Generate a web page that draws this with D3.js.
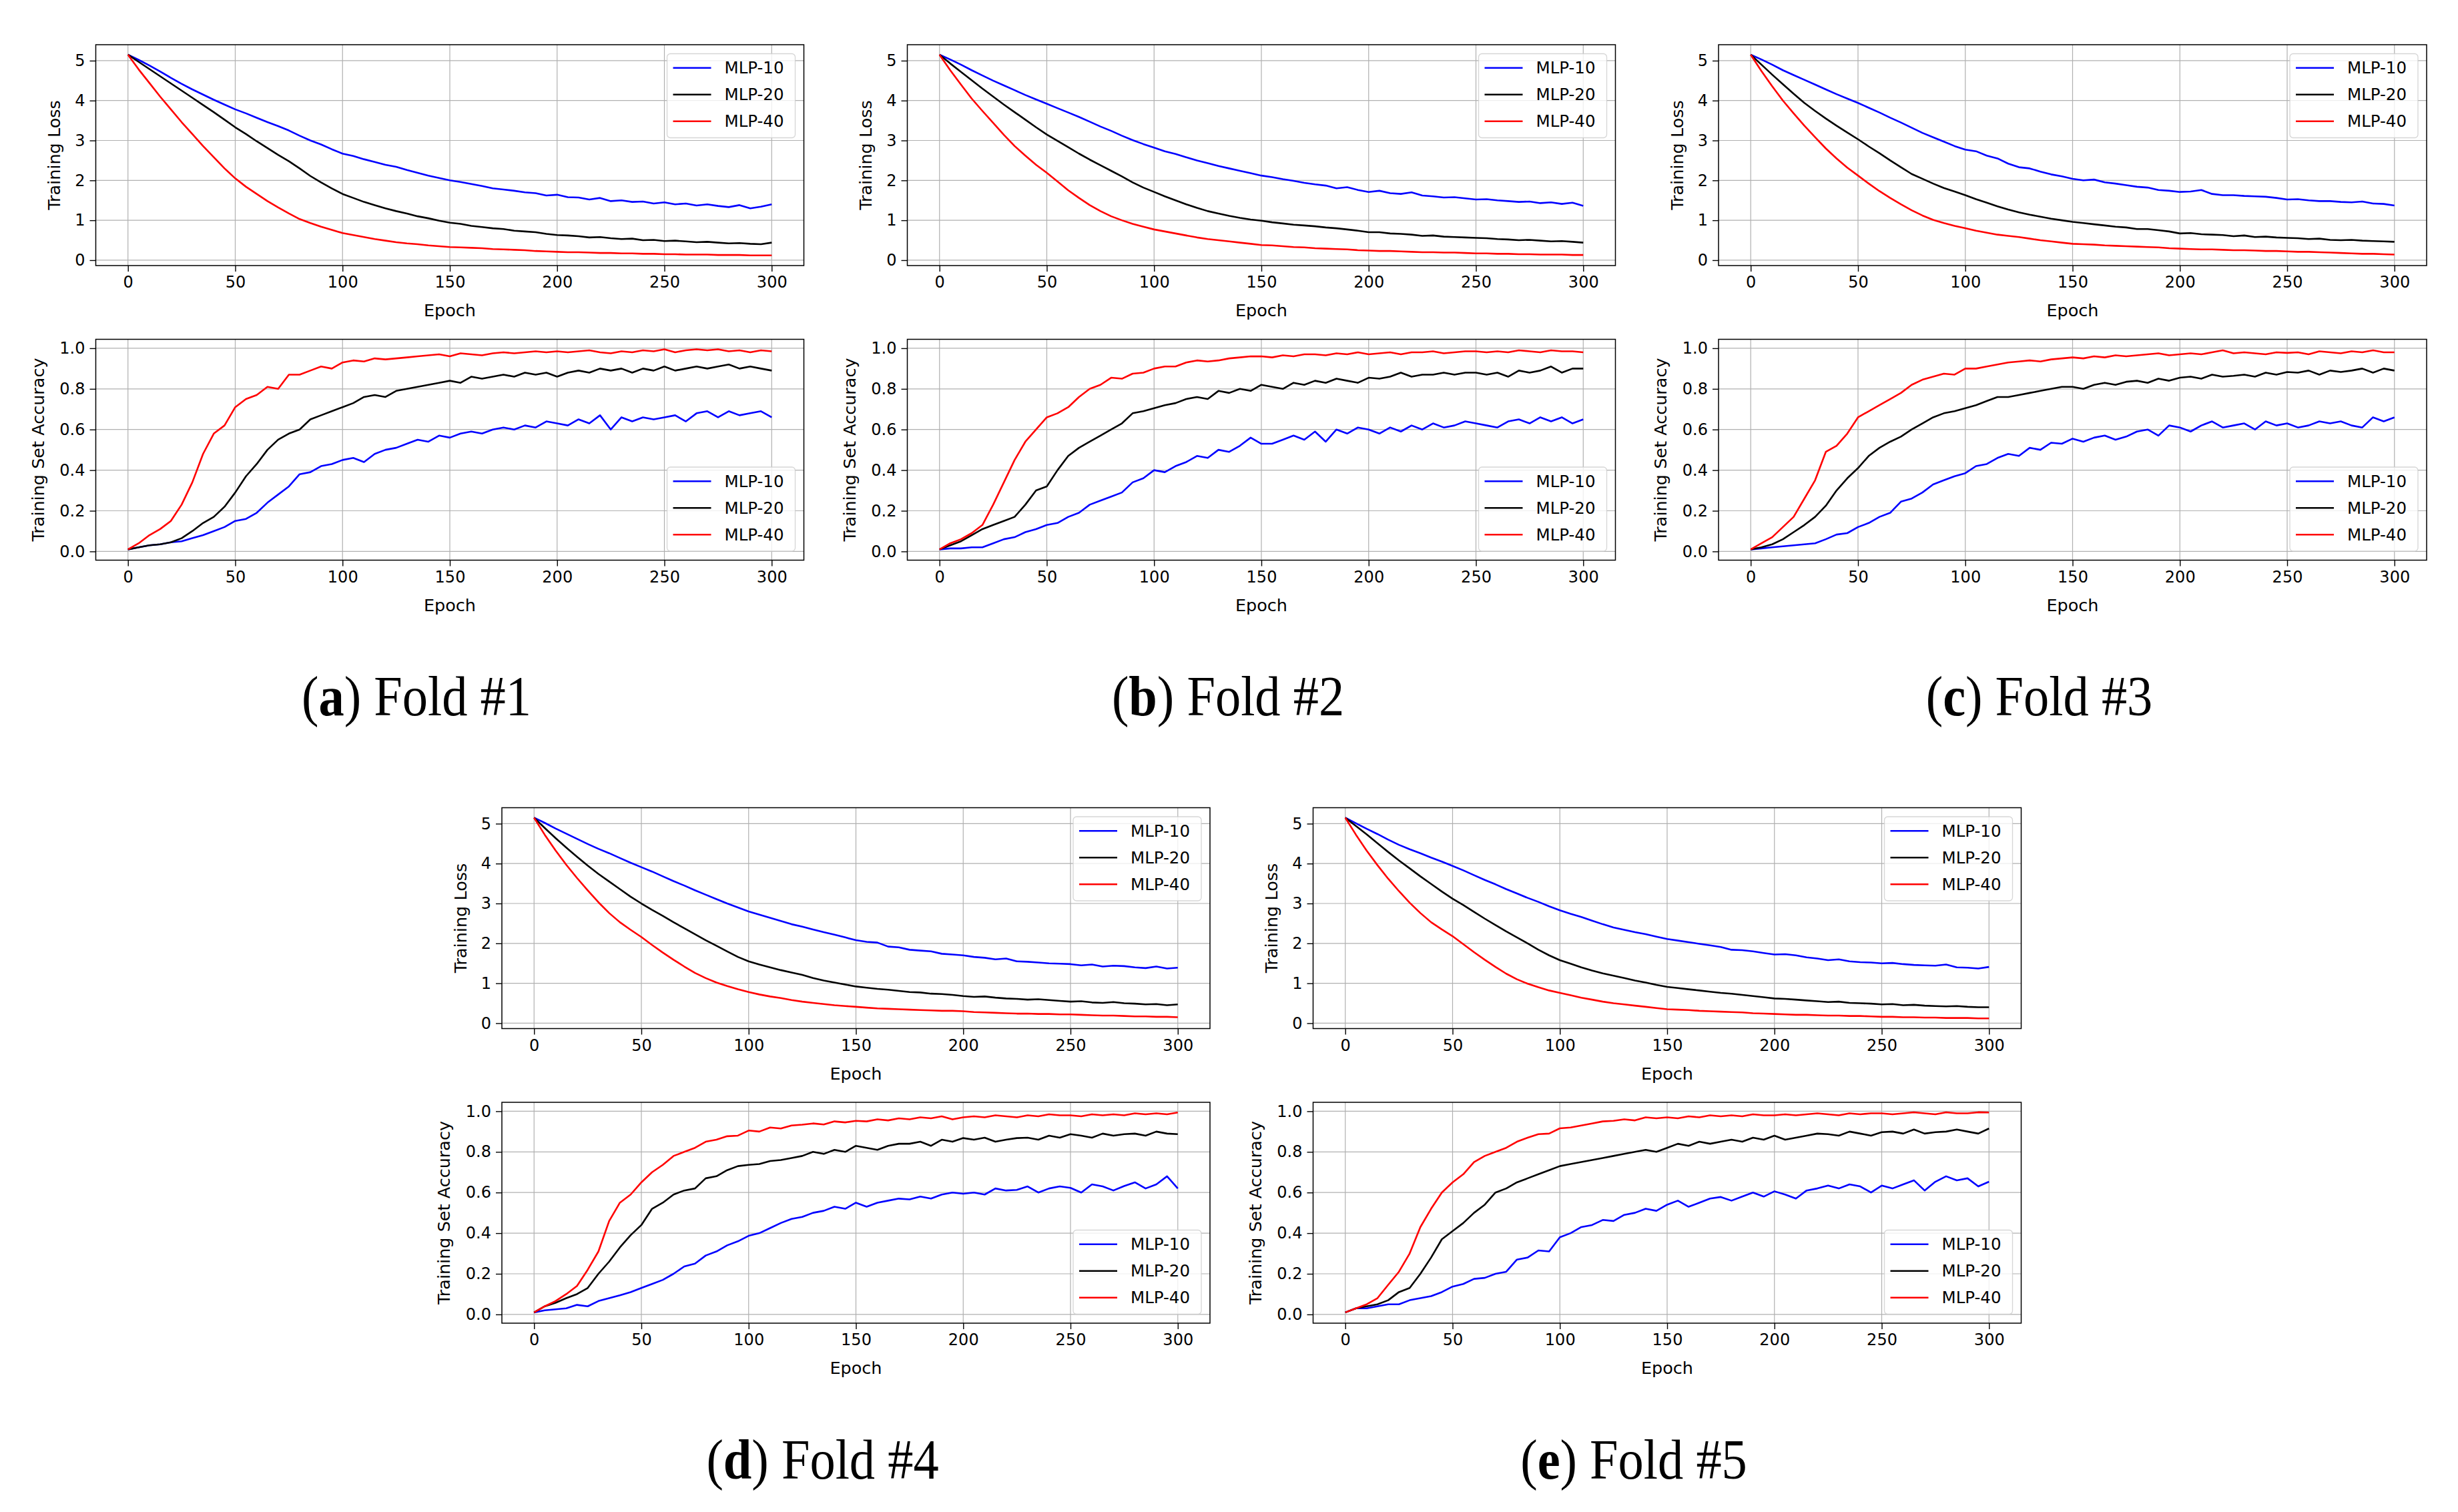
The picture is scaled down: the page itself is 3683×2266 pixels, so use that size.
<!DOCTYPE html>
<html><head><meta charset="utf-8">
<script src="https://cdn.jsdelivr.net/npm/d3@7"></script>
<style>html,body{margin:0;padding:0;background:#fff;}svg{display:block;}</style>
</head><body>
<svg id="chart" width="3683" height="2266"></svg>
<script>
// ---------- data (values every 5 epochs) ----------
const epochs = d3.range(0, 301, 5);
const seriesNames = ["MLP-10", "MLP-20", "MLP-40"];
const xTicks = [0, 50, 100, 150, 200, 250, 300];
const lossTicks = [0, 1, 2, 3, 4, 5];
const accTicks = [0.0, 0.2, 0.4, 0.6, 0.8, 1.0];
const captionLetters = ["a", "b", "c", "d", "e"];
const captionTexts = ["Fold #1", "Fold #2", "Fold #3", "Fold #4", "Fold #5"];

// Fold 1
const lossA10 = [5.15,5.02,4.88,4.73,4.57,4.42,4.28,4.15,4.02,3.90,3.78,3.68,3.57,3.46,3.36,3.25,3.12,3.00,2.90,2.78,2.67,2.61,2.53,2.46,2.39,2.34,2.26,2.19,2.12,2.06,2.00,1.96,1.91,1.86,1.80,1.77,1.74,1.70,1.68,1.62,1.64,1.58,1.57,1.52,1.56,1.48,1.50,1.46,1.47,1.42,1.45,1.40,1.42,1.37,1.40,1.36,1.33,1.38,1.30,1.34,1.40];
const lossA20 = [5.15,4.97,4.79,4.61,4.43,4.25,4.07,3.89,3.71,3.52,3.33,3.16,2.98,2.81,2.64,2.48,2.30,2.11,1.95,1.80,1.66,1.56,1.46,1.38,1.30,1.23,1.17,1.10,1.05,0.99,0.94,0.91,0.86,0.83,0.80,0.78,0.74,0.72,0.70,0.66,0.63,0.62,0.60,0.57,0.58,0.55,0.53,0.54,0.50,0.51,0.48,0.49,0.47,0.45,0.46,0.44,0.42,0.43,0.41,0.40,0.44];
const lossA40 = [5.15,4.78,4.44,4.10,3.78,3.46,3.16,2.86,2.58,2.30,2.05,1.84,1.66,1.48,1.32,1.17,1.03,0.93,0.84,0.76,0.68,0.63,0.58,0.53,0.49,0.45,0.42,0.40,0.37,0.35,0.33,0.32,0.31,0.30,0.28,0.27,0.26,0.25,0.23,0.22,0.21,0.20,0.20,0.19,0.18,0.18,0.17,0.17,0.16,0.16,0.15,0.15,0.14,0.14,0.14,0.13,0.13,0.13,0.12,0.12,0.12];
const accA10 = [0.01,0.02,0.03,0.035,0.045,0.05,0.065,0.08,0.10,0.12,0.15,0.16,0.19,0.24,0.28,0.32,0.38,0.39,0.42,0.43,0.45,0.46,0.44,0.48,0.50,0.51,0.53,0.55,0.54,0.57,0.56,0.58,0.59,0.58,0.60,0.61,0.60,0.62,0.61,0.64,0.63,0.62,0.65,0.63,0.67,0.60,0.66,0.64,0.66,0.65,0.66,0.67,0.64,0.68,0.69,0.66,0.69,0.67,0.68,0.69,0.66];
const accA20 = [0.01,0.02,0.03,0.035,0.045,0.065,0.10,0.14,0.17,0.22,0.29,0.37,0.43,0.50,0.55,0.58,0.60,0.65,0.67,0.69,0.71,0.73,0.76,0.77,0.76,0.79,0.80,0.81,0.82,0.83,0.84,0.83,0.86,0.85,0.86,0.87,0.86,0.88,0.87,0.88,0.86,0.88,0.89,0.88,0.90,0.89,0.90,0.88,0.90,0.89,0.91,0.89,0.90,0.91,0.90,0.91,0.92,0.90,0.91,0.90,0.89];
const accA40 = [0.01,0.04,0.08,0.11,0.15,0.23,0.34,0.48,0.58,0.62,0.71,0.75,0.77,0.81,0.80,0.87,0.87,0.89,0.91,0.90,0.93,0.94,0.935,0.95,0.945,0.95,0.955,0.96,0.965,0.97,0.96,0.975,0.97,0.965,0.975,0.98,0.975,0.98,0.985,0.98,0.985,0.98,0.985,0.99,0.98,0.975,0.985,0.98,0.99,0.985,0.995,0.98,0.99,0.995,0.99,0.995,0.985,0.99,0.98,0.99,0.985];

// Fold 2
const lossB10 = [5.15,5.03,4.90,4.76,4.63,4.50,4.38,4.26,4.14,4.03,3.92,3.81,3.70,3.59,3.47,3.35,3.24,3.12,3.01,2.91,2.82,2.73,2.66,2.58,2.50,2.43,2.36,2.30,2.24,2.18,2.12,2.08,2.03,1.99,1.94,1.90,1.87,1.80,1.83,1.76,1.71,1.74,1.68,1.66,1.70,1.62,1.60,1.57,1.58,1.55,1.52,1.53,1.50,1.48,1.46,1.47,1.43,1.45,1.41,1.44,1.36];
const lossB20 = [5.15,4.93,4.72,4.51,4.30,4.10,3.90,3.71,3.52,3.33,3.15,2.99,2.83,2.67,2.52,2.38,2.24,2.10,1.95,1.82,1.71,1.60,1.50,1.40,1.31,1.23,1.17,1.11,1.06,1.02,0.99,0.95,0.92,0.89,0.87,0.85,0.82,0.80,0.77,0.74,0.70,0.70,0.67,0.66,0.64,0.61,0.62,0.59,0.58,0.57,0.56,0.55,0.53,0.52,0.50,0.51,0.49,0.47,0.48,0.46,0.44];
const lossB40 = [5.15,4.76,4.40,4.05,3.74,3.44,3.14,2.86,2.62,2.39,2.19,1.97,1.75,1.56,1.38,1.23,1.10,1.00,0.91,0.84,0.77,0.72,0.67,0.62,0.57,0.53,0.50,0.47,0.44,0.41,0.38,0.37,0.35,0.33,0.32,0.30,0.29,0.28,0.27,0.25,0.24,0.23,0.23,0.22,0.21,0.20,0.20,0.19,0.19,0.18,0.17,0.17,0.16,0.16,0.15,0.15,0.14,0.14,0.14,0.13,0.13];
const accB10 = [0.01,0.015,0.015,0.02,0.02,0.04,0.06,0.07,0.095,0.11,0.13,0.14,0.17,0.19,0.23,0.25,0.27,0.29,0.34,0.36,0.40,0.39,0.42,0.44,0.47,0.46,0.50,0.49,0.52,0.56,0.53,0.53,0.55,0.57,0.55,0.59,0.54,0.60,0.58,0.61,0.60,0.58,0.61,0.59,0.62,0.60,0.63,0.61,0.62,0.64,0.63,0.62,0.61,0.64,0.65,0.63,0.66,0.64,0.66,0.63,0.65];
const accB20 = [0.01,0.03,0.05,0.08,0.11,0.13,0.15,0.17,0.23,0.30,0.32,0.40,0.47,0.51,0.54,0.57,0.60,0.63,0.68,0.69,0.705,0.72,0.73,0.75,0.76,0.75,0.79,0.78,0.80,0.79,0.82,0.81,0.80,0.83,0.82,0.84,0.83,0.85,0.84,0.83,0.855,0.85,0.86,0.88,0.86,0.87,0.87,0.88,0.87,0.88,0.88,0.87,0.88,0.86,0.89,0.88,0.89,0.91,0.88,0.90,0.90];
const accB40 = [0.01,0.04,0.06,0.09,0.13,0.23,0.34,0.45,0.54,0.60,0.66,0.68,0.71,0.76,0.80,0.82,0.855,0.85,0.875,0.88,0.90,0.91,0.91,0.93,0.94,0.935,0.94,0.95,0.955,0.96,0.96,0.955,0.965,0.96,0.97,0.97,0.965,0.975,0.97,0.98,0.97,0.975,0.98,0.97,0.98,0.98,0.985,0.975,0.98,0.985,0.985,0.98,0.985,0.98,0.99,0.985,0.98,0.99,0.985,0.985,0.98];

// Fold 3
const lossC10 = [5.15,5.03,4.90,4.76,4.64,4.52,4.40,4.28,4.16,4.05,3.94,3.82,3.70,3.57,3.45,3.32,3.19,3.08,2.97,2.86,2.77,2.73,2.62,2.55,2.42,2.33,2.30,2.22,2.15,2.10,2.04,2.00,2.02,1.95,1.92,1.88,1.84,1.82,1.76,1.74,1.71,1.72,1.76,1.66,1.63,1.63,1.61,1.60,1.59,1.56,1.52,1.53,1.50,1.48,1.48,1.46,1.45,1.47,1.42,1.41,1.37];
const lossC20 = [5.15,4.90,4.65,4.41,4.17,3.94,3.74,3.55,3.37,3.20,3.03,2.85,2.68,2.50,2.33,2.16,2.04,1.92,1.81,1.72,1.63,1.53,1.44,1.35,1.27,1.20,1.14,1.09,1.04,1.00,0.96,0.93,0.90,0.87,0.84,0.82,0.78,0.78,0.75,0.72,0.67,0.68,0.65,0.64,0.63,0.60,0.62,0.58,0.59,0.57,0.56,0.55,0.53,0.54,0.51,0.50,0.51,0.49,0.48,0.47,0.46];
const lossC40 = [5.15,4.74,4.36,4.00,3.68,3.37,3.08,2.80,2.55,2.32,2.12,1.92,1.73,1.56,1.40,1.25,1.12,1.01,0.93,0.86,0.80,0.74,0.69,0.64,0.61,0.58,0.54,0.50,0.47,0.44,0.41,0.40,0.39,0.37,0.36,0.35,0.34,0.33,0.32,0.30,0.29,0.28,0.27,0.27,0.26,0.25,0.25,0.24,0.23,0.23,0.22,0.21,0.21,0.20,0.19,0.18,0.17,0.16,0.16,0.15,0.14];
const accC10 = [0.01,0.015,0.02,0.025,0.03,0.035,0.04,0.06,0.083,0.09,0.12,0.14,0.17,0.19,0.245,0.26,0.29,0.33,0.35,0.37,0.385,0.42,0.43,0.46,0.48,0.47,0.51,0.50,0.535,0.53,0.555,0.54,0.56,0.57,0.55,0.565,0.59,0.60,0.57,0.62,0.61,0.59,0.62,0.64,0.61,0.62,0.63,0.60,0.64,0.62,0.63,0.61,0.62,0.64,0.63,0.64,0.62,0.61,0.66,0.64,0.66];
const accC20 = [0.01,0.02,0.035,0.06,0.095,0.13,0.17,0.225,0.30,0.36,0.41,0.47,0.51,0.54,0.565,0.60,0.63,0.66,0.68,0.69,0.705,0.72,0.74,0.76,0.76,0.77,0.78,0.79,0.80,0.81,0.81,0.80,0.82,0.83,0.82,0.835,0.84,0.83,0.85,0.84,0.855,0.86,0.85,0.87,0.86,0.864,0.87,0.86,0.88,0.87,0.883,0.88,0.89,0.87,0.89,0.883,0.89,0.90,0.88,0.90,0.89];
const accC40 = [0.01,0.04,0.07,0.12,0.17,0.26,0.35,0.49,0.52,0.58,0.66,0.69,0.72,0.75,0.78,0.82,0.845,0.86,0.875,0.87,0.90,0.90,0.91,0.92,0.93,0.935,0.94,0.935,0.945,0.95,0.955,0.95,0.96,0.955,0.965,0.96,0.965,0.97,0.975,0.965,0.97,0.975,0.97,0.98,0.99,0.975,0.98,0.975,0.97,0.98,0.977,0.98,0.97,0.985,0.98,0.975,0.985,0.98,0.99,0.98,0.98];

// Fold 4
const lossD10 = [5.15,5.02,4.88,4.75,4.62,4.49,4.37,4.26,4.14,4.02,3.91,3.80,3.68,3.56,3.45,3.33,3.22,3.11,3.00,2.90,2.80,2.72,2.64,2.56,2.48,2.42,2.35,2.28,2.22,2.15,2.08,2.04,2.02,1.92,1.90,1.84,1.82,1.80,1.74,1.72,1.70,1.66,1.64,1.60,1.62,1.55,1.54,1.52,1.50,1.49,1.48,1.45,1.47,1.42,1.44,1.43,1.40,1.38,1.42,1.37,1.39];
const lossD20 = [5.15,4.89,4.64,4.40,4.17,3.95,3.74,3.55,3.36,3.17,3.00,2.84,2.69,2.53,2.38,2.23,2.08,1.94,1.80,1.66,1.55,1.47,1.40,1.33,1.27,1.21,1.13,1.07,1.02,0.97,0.92,0.89,0.86,0.84,0.81,0.78,0.77,0.74,0.73,0.71,0.68,0.66,0.67,0.64,0.62,0.61,0.59,0.60,0.58,0.56,0.54,0.55,0.52,0.51,0.53,0.50,0.49,0.47,0.48,0.45,0.47];
const lossD40 = [5.15,4.72,4.33,3.97,3.64,3.33,3.03,2.76,2.53,2.34,2.16,1.96,1.77,1.59,1.42,1.26,1.13,1.02,0.93,0.85,0.78,0.72,0.67,0.63,0.58,0.54,0.51,0.48,0.45,0.43,0.41,0.39,0.37,0.36,0.35,0.34,0.33,0.32,0.31,0.31,0.30,0.28,0.27,0.26,0.25,0.24,0.24,0.23,0.23,0.22,0.22,0.21,0.20,0.19,0.19,0.18,0.17,0.17,0.16,0.16,0.15];
const accD10 = [0.01,0.02,0.025,0.03,0.047,0.04,0.066,0.08,0.094,0.11,0.13,0.15,0.17,0.20,0.236,0.25,0.29,0.31,0.34,0.36,0.387,0.40,0.425,0.45,0.47,0.48,0.50,0.51,0.53,0.52,0.55,0.53,0.55,0.56,0.57,0.566,0.58,0.57,0.59,0.60,0.594,0.60,0.59,0.62,0.61,0.613,0.63,0.60,0.62,0.63,0.623,0.60,0.64,0.63,0.61,0.632,0.65,0.62,0.64,0.68,0.62];
const accD20 = [0.01,0.04,0.057,0.08,0.10,0.13,0.20,0.26,0.33,0.39,0.44,0.52,0.55,0.59,0.61,0.62,0.67,0.68,0.71,0.73,0.736,0.74,0.755,0.76,0.77,0.78,0.80,0.79,0.81,0.80,0.83,0.82,0.81,0.83,0.84,0.84,0.85,0.83,0.86,0.85,0.868,0.86,0.87,0.85,0.86,0.868,0.87,0.86,0.88,0.87,0.887,0.88,0.87,0.89,0.88,0.887,0.89,0.88,0.90,0.89,0.887];
const accD40 = [0.01,0.04,0.066,0.10,0.14,0.22,0.31,0.46,0.55,0.59,0.65,0.70,0.736,0.78,0.80,0.82,0.85,0.86,0.877,0.88,0.905,0.90,0.92,0.915,0.93,0.934,0.94,0.935,0.95,0.945,0.953,0.95,0.96,0.955,0.965,0.96,0.97,0.965,0.975,0.96,0.97,0.975,0.97,0.98,0.975,0.97,0.98,0.975,0.985,0.98,0.98,0.975,0.985,0.98,0.985,0.98,0.99,0.985,0.99,0.985,0.994];

// Fold 5
const lossE10 = [5.15,5.01,4.87,4.74,4.60,4.47,4.36,4.26,4.15,4.05,3.94,3.83,3.71,3.59,3.48,3.36,3.25,3.14,3.04,2.93,2.83,2.74,2.66,2.57,2.48,2.40,2.34,2.28,2.23,2.17,2.11,2.07,2.03,1.99,1.95,1.91,1.84,1.83,1.80,1.76,1.72,1.73,1.70,1.65,1.62,1.58,1.60,1.55,1.53,1.52,1.50,1.51,1.48,1.46,1.45,1.44,1.47,1.40,1.39,1.37,1.41];
const lossE20 = [5.15,4.94,4.73,4.51,4.29,4.08,3.88,3.68,3.49,3.30,3.12,2.96,2.79,2.62,2.46,2.30,2.15,2.00,1.84,1.70,1.58,1.49,1.40,1.32,1.25,1.19,1.13,1.07,1.02,0.96,0.91,0.88,0.85,0.82,0.79,0.76,0.74,0.71,0.68,0.65,0.62,0.61,0.59,0.57,0.55,0.53,0.54,0.51,0.50,0.49,0.47,0.48,0.45,0.46,0.44,0.43,0.42,0.43,0.41,0.40,0.40];
const lossE40 = [5.15,4.72,4.32,3.96,3.62,3.31,3.02,2.76,2.53,2.35,2.18,1.98,1.78,1.59,1.41,1.24,1.10,0.99,0.90,0.82,0.76,0.70,0.64,0.59,0.54,0.50,0.47,0.44,0.41,0.38,0.35,0.34,0.33,0.31,0.30,0.29,0.28,0.27,0.25,0.24,0.23,0.22,0.21,0.21,0.20,0.19,0.19,0.18,0.18,0.17,0.16,0.16,0.15,0.15,0.14,0.14,0.13,0.13,0.13,0.12,0.12];
const accE10 = [0.01,0.03,0.03,0.04,0.05,0.05,0.07,0.08,0.09,0.11,0.137,0.15,0.175,0.18,0.20,0.21,0.27,0.28,0.315,0.31,0.38,0.40,0.43,0.44,0.465,0.46,0.49,0.50,0.52,0.51,0.54,0.56,0.53,0.55,0.57,0.578,0.56,0.58,0.60,0.58,0.606,0.59,0.57,0.61,0.62,0.634,0.62,0.64,0.63,0.60,0.634,0.62,0.64,0.66,0.61,0.653,0.68,0.66,0.67,0.63,0.653];
const accE20 = [0.01,0.03,0.04,0.05,0.07,0.11,0.13,0.20,0.28,0.37,0.41,0.45,0.50,0.54,0.60,0.62,0.65,0.67,0.69,0.71,0.73,0.74,0.75,0.76,0.77,0.78,0.79,0.80,0.81,0.80,0.82,0.84,0.83,0.85,0.84,0.85,0.86,0.85,0.87,0.86,0.88,0.86,0.87,0.88,0.89,0.887,0.88,0.90,0.89,0.88,0.897,0.90,0.89,0.91,0.89,0.897,0.90,0.91,0.90,0.89,0.915];
const accE40 = [0.01,0.03,0.05,0.08,0.146,0.21,0.30,0.43,0.52,0.60,0.65,0.69,0.75,0.78,0.80,0.82,0.85,0.87,0.887,0.89,0.916,0.92,0.93,0.94,0.95,0.953,0.96,0.955,0.97,0.965,0.97,0.965,0.975,0.97,0.98,0.975,0.98,0.975,0.985,0.98,0.98,0.985,0.98,0.985,0.99,0.985,0.98,0.99,0.985,0.99,0.99,0.985,0.99,0.995,0.99,0.985,0.995,0.99,0.99,0.995,0.994];

const foldLoss = [[lossA10,lossA20,lossA40],[lossB10,lossB20,lossB40],[lossC10,lossC20,lossC40],[lossD10,lossD20,lossD40],[lossE10,lossE20,lossE40]];
const foldAcc  = [[accA10,accA20,accA40],[accB10,accB20,accB40],[accC10,accC20,accC40],[accD10,accD20,accD40],[accE10,accE20,accE40]];

// ---------- layout / style ----------
const colors = ["#0000ff", "#000000", "#ff0000"];
const FONT = "'DejaVu Sans', Verdana, sans-serif";
const axW = 1061, axH = 331;
const panelPos = [
  {x: 143.5, y: 67}, {x: 1359.5, y: 67}, {x: 2575, y: 67},
  {x: 752, y: 1210.5}, {x: 1967.5, y: 1210.5}
];
const accOffset = 441.5;     // accuracy axes top relative to loss axes top
const captionOffset = 1005;  // caption baseline relative to loss axes top

const svg = d3.select("#chart");
svg.append("rect").attr("width", 3683).attr("height", 2266).attr("fill", "#fff");

function drawAxes(g, series, yDomain, yTicks, yFmt, yLabel, yLabelOff, legendPos, idx) {
  const x = d3.scaleLinear().domain([-15, 315]).range([0, axW]);
  const y = d3.scaleLinear().domain(yDomain).range([axH, 0]);

  // grid
  const grid = g.append("g").attr("stroke", "#b0b0b0").attr("stroke-width", 1.2);
  xTicks.forEach(t => grid.append("line").attr("x1", x(t)).attr("x2", x(t)).attr("y1", 0).attr("y2", axH));
  yTicks.forEach(t => grid.append("line").attr("x1", 0).attr("x2", axW).attr("y1", y(t)).attr("y2", y(t)));

  // lines
  const clipId = "clip" + idx;
  g.append("clipPath").attr("id", clipId).append("rect").attr("width", axW).attr("height", axH);
  const line = d3.line().x((d, i) => x(epochs[i])).y(d => y(d));
  const lg = g.append("g").attr("clip-path", `url(#${clipId})`);
  series.forEach((s, k) => {
    lg.append("path").datum(s).attr("d", line).attr("fill", "none")
      .attr("stroke", colors[k]).attr("stroke-width", 2.6).attr("stroke-linejoin", "round");
  });

  // axes via d3 axis generators
  const xAxis = d3.axisBottom(x).tickValues(xTicks).tickSize(9).tickPadding(7).tickFormat(d3.format("d"));
  const yAxis = d3.axisLeft(y).tickValues(yTicks).tickSize(9).tickPadding(7).tickFormat(yFmt);
  const gx = g.append("g").attr("transform", `translate(0,${axH})`).call(xAxis);
  const gy = g.append("g").call(yAxis);
  [gx, gy].forEach(a => {
    a.select(".domain").remove();
    a.selectAll(".tick line").attr("stroke", "#000").attr("stroke-width", 1.4);
    a.selectAll(".tick text").attr("font-family", FONT).attr("font-size", 24).attr("fill", "#000");
  });
  gx.selectAll(".tick text").attr("dy", "0.71em");
  // frame
  g.append("rect").attr("width", axW).attr("height", axH).attr("fill", "none")
    .attr("stroke", "#000").attr("stroke-width", 1.5);

  // axis labels
  g.append("text").attr("x", axW / 2).attr("y", axH + 67).attr("text-anchor", "middle")
    .attr("dominant-baseline", "central").attr("font-family", FONT).attr("font-size", 25.5).text("Epoch");
  g.append("text").attr("transform", `translate(${yLabelOff},${axH / 2}) rotate(-90)`)
    .attr("text-anchor", "middle").attr("dominant-baseline", "central")
    .attr("font-family", FONT).attr("font-size", 25.5).text(yLabel);

  // legend
  const lw = 192, lh = 126;
  const lx = axW - 13 - lw;
  const ly = legendPos === "upper" ? 13.5 : axH - 13.5 - lh;
  const leg = g.append("g").attr("transform", `translate(${lx},${ly})`);
  leg.append("rect").attr("width", lw).attr("height", lh).attr("rx", 5)
    .attr("fill", "#fff").attr("fill-opacity", 0.8).attr("stroke", "#cccccc").attr("stroke-opacity", 0.8).attr("stroke-width", 1.3);
  seriesNames.forEach((n, k) => {
    const yy = 21.3 + k * 40;
    leg.append("line").attr("x1", 9).attr("x2", 66).attr("y1", yy).attr("y2", yy)
      .attr("stroke", colors[k]).attr("stroke-width", 2.6);
    leg.append("text").attr("x", 86).attr("y", yy).attr("dominant-baseline", "central")
      .attr("font-family", FONT).attr("font-size", 24.5).attr("fill", "#000").text(n);
  });
}

panelPos.forEach((p, i) => {
  const gL = svg.append("g").attr("transform", `translate(${p.x},${p.y})`);
  drawAxes(gL, foldLoss[i], [-0.135, 5.40], lossTicks, d3.format("d"), "Training Loss", -62.5, "upper", "L" + i);
  const gA = svg.append("g").attr("transform", `translate(${p.x},${p.y + accOffset})`);
  drawAxes(gA, foldAcc[i], [-0.043, 1.044], accTicks, d3.format(".1f"), "Training Set Accuracy", -87, "lower", "A" + i);

  // caption
  const cx = p.x + axW / 2 - 50;
  const cap = svg.append("text")
    .attr("transform", `translate(${cx},${p.y + captionOffset}) scale(0.91,1)`)
    .attr("text-anchor", "middle")
    .attr("font-family", "'Liberation Serif', 'Times New Roman', serif")
    .attr("font-size", 84).attr("fill", "#000");
  cap.append("tspan").text("(");
  cap.append("tspan").attr("font-weight", "bold").text(captionLetters[i]);
  cap.append("tspan").text(") " + captionTexts[i]);
});
</script>
</body></html>
